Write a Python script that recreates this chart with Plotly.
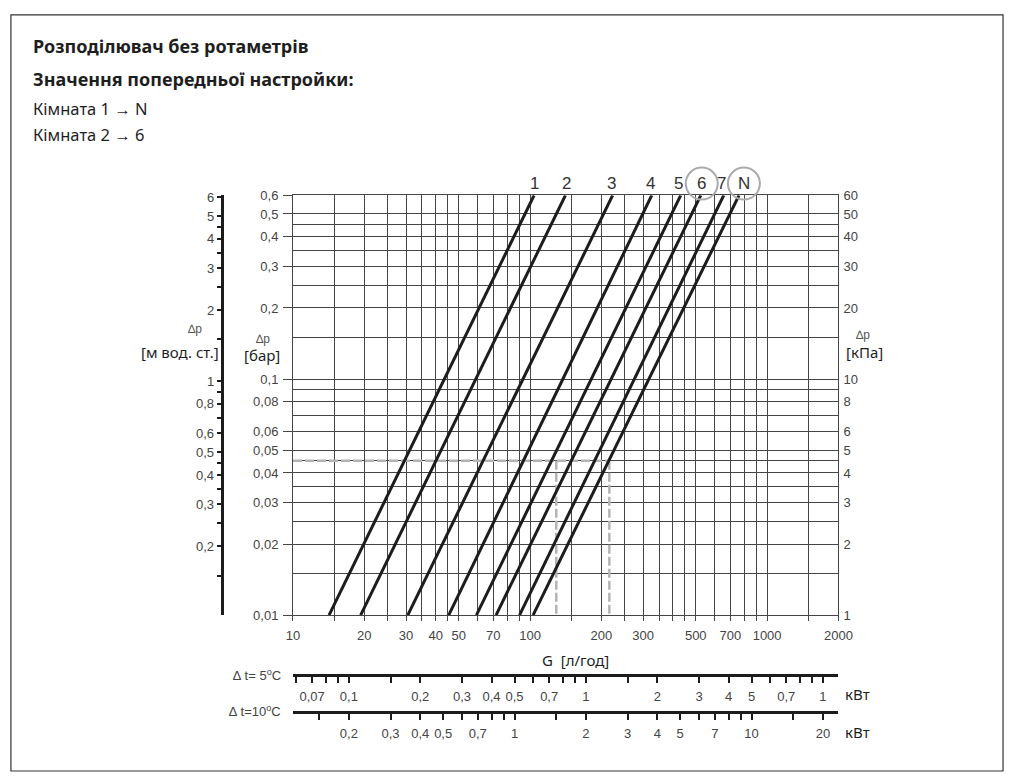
import math
import plotly.graph_objects as go

# ------------------------------------------------------------------ data
curve_names = ["1", "2", "3", "4", "5", "6", "7", "N"]
g_at_dp_min = [14.2, 19.3, 30.5, 45.4, 59.4, 71.9, 90.3, 103]    # л/год at 0,01 бар
g_at_dp_max = [104, 141, 223, 326, 432, 525, 656, 761]           # л/год at 0,6 бар
dp_min_bar = 0.01
dp_max_bar = 0.6
circled_curves = ["6", "N"]

example_dp_bar = 0.045
example_g = [129, 216]

g_range = [10, 2000]
g_grid = [10, 15, 20, 25, 30, 35, 40, 45, 50, 60, 70, 80, 90,
          100, 150, 200, 250, 300, 350, 400, 450, 500, 600, 700, 800, 900,
          1000, 1500, 2000]
g_labels = [10, 20, 30, 40, 50, 70, 100, 200, 300, 500, 700, 1000, 2000]

bar_grid = [0.01, 0.015, 0.02, 0.025, 0.03, 0.035, 0.04, 0.045, 0.05, 0.06,
            0.07, 0.08, 0.09, 0.1, 0.15, 0.2, 0.25, 0.3, 0.35, 0.4, 0.45, 0.5, 0.6]
bar_labels = [0.6, 0.5, 0.4, 0.3, 0.2, 0.1, 0.08, 0.06, 0.05, 0.04, 0.03, 0.02, 0.01]
kpa_labels = [60, 50, 40, 30, 20, 10, 8, 6, 5, 4, 3, 2, 1]
mwc_labels = [6, 5, 4, 3, 2, 1, 0.8, 0.6, 0.5, 0.4, 0.3, 0.2, 0.1]
mwc_minor = [4.5, 3.5, 2.5, 1.5, 0.9, 0.7, 0.45, 0.35, 0.25, 0.15]

kw5_ticks = [0.07, 0.1, 0.2, 0.3, 0.4, 0.5, 0.7, 1, 2, 3, 4, 5, 7, 10]
kw5_text = ["0,07", "0,1", "0,2", "0,3", "0,4", "0,5", "0,7", "1", "2", "3", "4", "5", "0,7", "1"]
kw5_minor = [0.06, 0.08, 0.09, 0.15, 0.6, 0.8, 0.9, 1.5, 6, 8, 9]
kw10_ticks = [0.2, 0.3, 0.4, 0.5, 0.7, 1, 2, 3, 4, 5, 7, 10, 20]
kw10_minor = [0.15, 0.6, 0.8, 0.9, 1.5, 6, 8, 9, 15]

# ------------------------------------------------------------------ constants
W, H = 1018, 780
KPA_PER_BAR = 100.0
MWC_PER_BAR = 10.197
KCAL = 860.0          # л/год·K per кВт

def px(x):
    return x / W

def py(y):
    return 1 - y / H

X_DOM = [px(292), px(849)]
Y_DOM = [py(620), py(192)]

TICK_FONT = dict(family="Liberation Sans, Arial", size=13, color="#444444")
TEXT_FONT = "Noto Sans"
GRID_COLOR = "#454545"
INK = "#1c1c1c"

def fmt(v):
    return ("%g" % v).replace(".", ",")

def lg(v):
    return math.log10(v)

def g_to_paper(g):
    t = (lg(g) - lg(g_range[0])) / (lg(g_range[1]) - lg(g_range[0]))
    return X_DOM[0] + t * (X_DOM[1] - X_DOM[0])

# ------------------------------------------------------------------ figure
fig = go.Figure()

# example (dashed) lines
dash_style = dict(color="#b4b4b4", width=2.5, dash="9px,3px")
fig.add_trace(go.Scatter(x=[g_range[0], example_g[1]], y=[example_dp_bar, example_dp_bar],
                         mode="lines", line=dash_style, hoverinfo="skip", showlegend=False))
for g in example_g:
    fig.add_trace(go.Scatter(x=[g, g], y=[example_dp_bar, dp_min_bar],
                             mode="lines", line=dash_style, hoverinfo="skip", showlegend=False))

# characteristic curves
for name, g0, g1 in zip(curve_names, g_at_dp_min, g_at_dp_max):
    fig.add_trace(go.Scatter(x=[g0, g1], y=[dp_min_bar, dp_max_bar], mode="lines",
                             name=name, line=dict(color=INK, width=3),
                             showlegend=False))

# curve labels above the grid
label_dx = [0, 1, -1, -1, -2, 1, -2, 5]
for name, g1, dx in zip(curve_names, g_at_dp_max, label_dx):
    xp = g_to_paper(g1) + dx / W
    fig.add_annotation(x=xp, y=py(180), xref="paper", yref="paper", text=name,
                       showarrow=False, xanchor="center", yanchor="middle",
                       font=dict(family="Liberation Sans, Arial", size=17, color="#333333"))
    if name in circled_curves:
        fig.add_shape(type="circle", xref="paper", yref="paper",
                      xsizemode="pixel", ysizemode="pixel",
                      xanchor=xp, yanchor=py(180), x0=-16, x1=16, y0=-16, y1=16,
                      line=dict(color="#ababab", width=2))

# ------------------------------------------------------------------ axes
g_minor = [v for v in g_grid if v not in g_labels]
bar_minor = [v for v in bar_grid if v not in bar_labels]

fig.update_layout(
    width=W, height=H, margin=dict(l=0, r=0, t=0, b=0),
    paper_bgcolor="white", plot_bgcolor="white", showlegend=False,
    xaxis=dict(type="log", domain=X_DOM, range=[lg(g_range[0]), lg(g_range[1])],
               tickvals=g_labels, ticktext=[fmt(v) for v in g_labels],
               ticks="outside", ticklen=5, tickcolor=GRID_COLOR, tickwidth=1,
               ticklabelstandoff=3,
               showgrid=True, gridcolor=GRID_COLOR, gridwidth=1,
               minor=dict(tickvals=g_minor, showgrid=True, gridcolor=GRID_COLOR, gridwidth=1,
                          ticks="outside", ticklen=5, tickcolor=GRID_COLOR, tickwidth=1),
               showline=True, linecolor=GRID_COLOR, linewidth=1, mirror=True,
               tickfont=TICK_FONT, zeroline=False, fixedrange=True),
    yaxis=dict(type="log", domain=Y_DOM, range=[lg(dp_min_bar), lg(dp_max_bar)],
               tickvals=bar_labels, ticktext=[fmt(v) for v in bar_labels],
               ticks="outside", ticklen=9, tickcolor=GRID_COLOR, tickwidth=1,
               ticklabelstandoff=2,
               showgrid=True, gridcolor=GRID_COLOR, gridwidth=1,
               minor=dict(tickvals=bar_minor, showgrid=True, gridcolor=GRID_COLOR, gridwidth=1,
                          ticks=""),
               showline=True, linecolor=GRID_COLOR, linewidth=1, mirror=True,
               tickfont=TICK_FONT, zeroline=False, fixedrange=True),
    yaxis2=dict(type="log", overlaying="y", side="right", anchor="x",
                range=[lg(dp_min_bar * KPA_PER_BAR), lg(dp_max_bar * KPA_PER_BAR)],
                tickvals=kpa_labels, ticktext=[fmt(v) for v in kpa_labels],
                ticks="", showgrid=False, showline=False, zeroline=False,
                tickfont=TICK_FONT, ticklabelstandoff=4, fixedrange=True),
    yaxis3=dict(type="log", overlaying="y", side="left", anchor="free", position=px(220),
                range=[lg(dp_min_bar * MWC_PER_BAR), lg(dp_max_bar * MWC_PER_BAR)],
                tickvals=mwc_labels, ticktext=[fmt(v) for v in mwc_labels],
                ticks="outside", ticklen=5, tickwidth=2, tickcolor=INK,
                minor=dict(tickvals=mwc_minor, ticks="outside", ticklen=5,
                           tickwidth=2, tickcolor=INK, showgrid=False),
                showgrid=False, showline=True, linecolor=INK, linewidth=2.5,
                zeroline=False, tickfont=TICK_FONT, fixedrange=True),
    xaxis2=dict(type="log", overlaying="x", anchor="free", position=py(681.5), side="bottom",
                range=[lg(g_range[0] * 5 / KCAL), lg(g_range[1] * 5 / KCAL)],
                tickvals=kw5_ticks, ticktext=kw5_text,
                ticks="outside", ticklen=6, tickwidth=2, tickcolor=INK,
                ticklabelstandoff=2,
                minor=dict(tickvals=kw5_minor, ticks="outside", ticklen=6,
                           tickwidth=2, tickcolor=INK, showgrid=False),
                showgrid=False, showline=True, linecolor=INK, linewidth=2.5,
                zeroline=False, tickfont=TICK_FONT, fixedrange=True),
    xaxis3=dict(type="log", overlaying="x", anchor="free", position=py(719), side="bottom",
                range=[lg(g_range[0] * 10 / KCAL), lg(g_range[1] * 10 / KCAL)],
                tickvals=kw10_ticks, ticktext=[fmt(v) for v in kw10_ticks],
                ticks="outside", ticklen=6, tickwidth=2, tickcolor=INK,
                ticklabelstandoff=2,
                minor=dict(tickvals=kw10_minor, ticks="outside", ticklen=6,
                           tickwidth=2, tickcolor=INK, showgrid=False),
                showgrid=False, showline=True, linecolor=INK, linewidth=2.5,
                zeroline=False, tickfont=TICK_FONT, fixedrange=True),
)

# invisible traces so the extra axes are rendered
fig.add_trace(go.Scatter(x=[None], y=[None], yaxis="y2", showlegend=False, hoverinfo="skip"))
fig.add_trace(go.Scatter(x=[None], y=[None], yaxis="y3", showlegend=False, hoverinfo="skip"))
fig.add_trace(go.Scatter(x=[None], y=[None], xaxis="x2", showlegend=False, hoverinfo="skip"))
fig.add_trace(go.Scatter(x=[None], y=[None], xaxis="x3", showlegend=False, hoverinfo="skip"))

# ------------------------------------------------------------------ texts
def note(text, x, y, size, xanchor="left", family=TEXT_FONT, color="#1e1e1e"):
    fig.add_annotation(x=px(x), y=py(y), xref="paper", yref="paper", text=text,
                       showarrow=False, xanchor=xanchor, yanchor="middle",
                       font=dict(family=family, size=size, color=color))

note("<b>Розподілювач без ротаметрів</b>", 25, 40, 18)
note("<b>Значення попередньої настройки:</b>", 25, 73, 18)
note("Кімната 1 → N", 25, 104, 16.5)
note("Кімната 2 → 6", 25, 130, 16.5)

small = "Liberation Sans, Arial"
note("∆p", 192, 328, 12, xanchor="center", family=small, color="#555555")
note("[м вод. ст.]", 218, 352, 15, xanchor="right")
note("∆p", 261, 339, 12, xanchor="center", family=small, color="#555555")
note("[бар]", 260, 355, 15, xanchor="center")
note("∆p", 874, 334, 12, xanchor="center", family=small, color="#555555")
note("[кПа]", 855, 352, 15, xanchor="left")
note("G  [л/год]", 580, 666, 15, xanchor="center")

note("∆ t= 5<sup>o</sup>C", 282, 681, 13, xanchor="right", family=small, color="#444444")
note("∆ t=10<sup>o</sup>C", 282, 718, 13, xanchor="right", family=small, color="#444444")
note("кВт", 854, 700, 15)
note("кВт", 854, 739, 15)

# frame of the sheet
fig.add_shape(type="rect", xref="paper", yref="paper",
              x0=px(4), x1=px(1017), y0=py(8), y1=py(779),
              line=dict(color="#333333", width=1.2), fillcolor="rgba(0,0,0,0)", layer="below")

fig.write_html("out.html", config={"displayModeBar": False},
               post_script="document.body.style.margin='0px';document.body.style.overflow='hidden';")
